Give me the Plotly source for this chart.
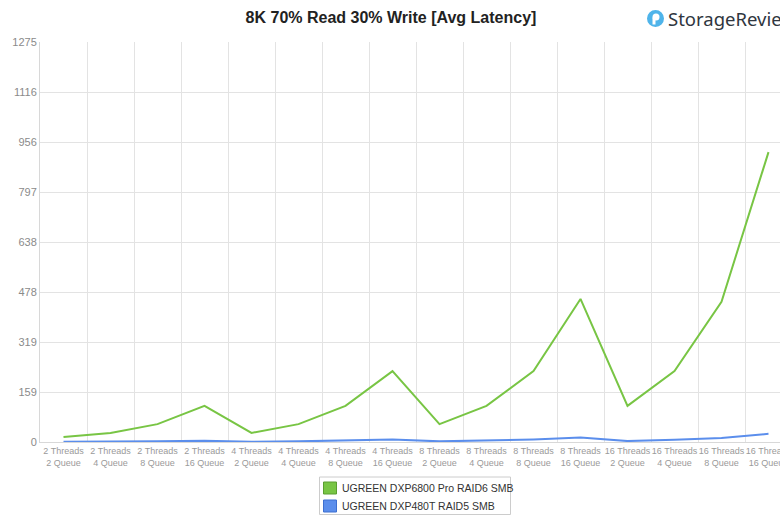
import plotly.graph_objects as go

categories = [
    "2 Threads<br>2 Queue", "2 Threads<br>4 Queue", "2 Threads<br>8 Queue", "2 Threads<br>16 Queue",
    "4 Threads<br>2 Queue", "4 Threads<br>4 Queue", "4 Threads<br>8 Queue", "4 Threads<br>16 Queue",
    "8 Threads<br>2 Queue", "8 Threads<br>4 Queue", "8 Threads<br>8 Queue", "8 Threads<br>16 Queue",
    "16 Threads<br>2 Queue", "16 Threads<br>4 Queue", "16 Threads<br>8 Queue", "16 Threads<br>16 Queue",
]
series_names = ["UGREEN DXP6800 Pro RAID6 SMB", "UGREEN DXP480T RAID5 SMB"]
dxp6800 = [16, 29, 57, 115, 29, 57, 115, 226, 57, 115, 226, 456, 115, 226, 447, 924]
dxp480t = [1, 1, 2, 4, 1, 2, 4, 8, 2, 4, 8, 14, 3, 7, 13, 26]
ytick_vals = [0, 159.375, 318.75, 478.125, 637.5, 796.875, 956.25, 1115.625, 1275]
ytick_text = ["0", "159", "319", "478", "638", "797", "956", "1116", "1275"]

GREEN = "#78c544"
BLUE = "#5b8eec"

# plot area in pixels
L, R, T, B = 40, 780, 42, 442


def px(x):
    return (x - L) / (R - L)


def py(y):
    return (B - y) / (B - T)


fig = go.Figure()
fig.add_trace(go.Scatter(x=categories, y=dxp6800, mode="lines", line=dict(color=GREEN, width=2),
                         showlegend=False, name=series_names[0]))
fig.add_trace(go.Scatter(x=categories, y=dxp480t, mode="lines", line=dict(color=BLUE, width=2),
                         showlegend=False, name=series_names[1]))

fig.update_layout(
    width=780, height=516,
    margin=dict(l=L, r=780 - R, t=T, b=516 - B, autoexpand=False),
    paper_bgcolor="white", plot_bgcolor="white",
    font=dict(family="Liberation Sans, Arial, sans-serif"),
    showlegend=False,
    title=dict(text="<b>8K 70% Read 30% Write [Avg Latency]</b>", x=391 / 780, xanchor="center",
               y=1 - 17 / 516, yanchor="middle", yref="container",
               font=dict(size=16, color="#222222")),
    xaxis=dict(
        type="category", categoryorder="array", categoryarray=categories,
        range=[-0.5, -0.5 + (R - L) / 47], tickson="boundaries", tickangle=0, automargin=False,
        showgrid=True, gridcolor="#e3e3e3", gridwidth=1,
        showline=True, linecolor="#d8d8d8", linewidth=1,
        ticks="", tickfont=dict(size=9, color="#9a9a9a"), fixedrange=True,
    ),
    yaxis=dict(
        range=[0, 1275], tickvals=ytick_vals, ticktext=ytick_text, automargin=False,
        showgrid=True, gridcolor="#e3e3e3", gridwidth=1,
        showline=True, linecolor="#d8d8d8", linewidth=1,
        zeroline=False, ticks="", tickfont=dict(size=11, color="#8a8a8a"),
    ),
)

# manual legend
fig.add_shape(type="rect", xref="paper", yref="paper", x0=px(319.5), x1=px(510.5), y0=py(477), y1=py(514.5),
              line=dict(color="#cccccc", width=1), fillcolor="white", layer="above")
for i, (name, col, edge) in enumerate([(series_names[0], GREEN, "#5a9e30"), (series_names[1], BLUE, "#3d6fd0")]):
    yc = 488 + 18 * i
    fig.add_shape(type="rect", xref="paper", yref="paper", x0=px(323.5), x1=px(336.5),
                  y0=py(yc - 6), y1=py(yc + 6), fillcolor=col, line=dict(color=edge, width=1), layer="above")
    fig.add_annotation(text=name, xref="paper", yref="paper", x=px(340), y=py(yc),
                       xanchor="left", yanchor="middle", showarrow=False,
                       font=dict(size=10.5, color="#333333"))

# logo
cx, cy = px(655.5), py(18.5)
fig.add_shape(type="circle", xref="paper", yref="paper", xsizemode="pixel", ysizemode="pixel",
              xanchor=cx, yanchor=cy, x0=-8.5, x1=8.5, y0=-8.5, y1=8.5,
              fillcolor="#4fb4ea", line=dict(width=0))
fig.add_shape(type="circle", xref="paper", yref="paper", xsizemode="pixel", ysizemode="pixel",
              xanchor=cx, yanchor=cy, x0=-3, x1=4, y0=-2, y1=5,
              fillcolor="white", line=dict(width=0))
fig.add_shape(type="rect", xref="paper", yref="paper", xsizemode="pixel", ysizemode="pixel",
              xanchor=cx, yanchor=cy, x0=-3, x1=0, y0=-6, y1=1,
              fillcolor="white", line=dict(width=0))
fig.add_annotation(text="StorageReview", xref="paper", yref="paper", x=px(666), y=cy,
                   xanchor="left", yanchor="middle", showarrow=False,
                   font=dict(size=18.5, color="#2f3640", family="Noto Sans, Open Sans, Arial"))

fig.write_html("out.html", config={"displayModeBar": False},
               post_script="document.body.style.margin='0';document.body.style.overflow='hidden';")
